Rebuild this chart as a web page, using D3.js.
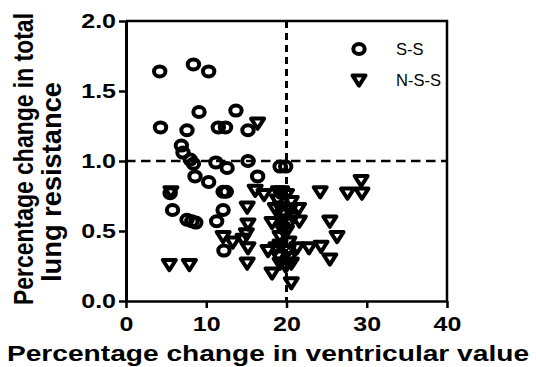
<!DOCTYPE html>
<html>
<head>
<meta charset="utf-8">
<script src="https://cdn.jsdelivr.net/npm/d3@7"></script>
<style>
body { margin: 0; background: #fff; }
text { font-family: "Liberation Sans", Arial, sans-serif; fill: #000; }
</style>
</head>
<body>
<div class="graph"></div>
<script>
// points: [ventricular change, lung resistance change]
var ssPoints = [
  [4.2,1.64],[8.4,1.69],[10.3,1.64],[9.1,1.35],[13.7,1.36],[4.3,1.24],[7.6,1.22],
  [11.5,1.24],[12.4,1.24],[15.2,1.22],[6.9,1.11],[7.1,1.06],[8.0,1.01],[8.4,0.98],
  [11.2,0.99],[12.6,0.95],[15.2,1.0],[19.2,0.96],[19.9,0.96],[8.6,0.89],[10.3,0.85],
  [16.4,0.89],[12.1,0.78],[12.5,0.78],[5.5,0.77],[5.8,0.65],[7.6,0.58],[8.2,0.57],
  [8.7,0.56],[12.1,0.65],[11.3,0.57],[12.2,0.36]
];
var nssPoints = [
  [16.4,1.27],[5.6,0.78],[5.4,0.26],[7.9,0.26],[12.1,0.46],[13.3,0.42],[14.6,0.44],
  [16.1,0.79],[17.2,0.76],[19.4,0.78],[20.0,0.76],[24.2,0.78],[27.6,0.77],[29.4,0.77],
  [29.3,0.86],[20.6,0.71],[18.9,0.72],[15.1,0.67],[19.2,0.67],[20.4,0.65],[21.5,0.66],
  [18.2,0.56],[15.2,0.55],[19.6,0.58],[20.4,0.56],[21.6,0.57],[25.4,0.57],[15.0,0.48],
  [19.2,0.46],[26.3,0.46],[20.0,0.50],[15.2,0.38],[17.7,0.36],[18.7,0.38],[19.2,0.40],
  [20.2,0.36],[21.3,0.38],[22.8,0.38],[24.3,0.39],[25.4,0.30],[15.1,0.27],[19.2,0.27],
  [19.9,0.25],[20.6,0.27],[18.2,0.20],[20.6,0.13],[19.0,0.32],[19.6,0.62],[20.3,0.42],
  [19.4,0.52],[18.6,0.66],[20.8,0.60],[19.0,0.78],[20.4,0.31]
];
var seriesNames = ["S-S", "N-S-S"];
var xTicks = [0, 10, 20, 30, 40];
var yTicks = [0, 0.5, 1.0, 1.5, 2.0];
var cutoffX = 20, cutoffY = 1.0;

var W = 536, H = 367;
var STRETCH = 1.25; // the original picture is stretched sideways

function stretchText(sel) {
  sel.each(function() {
    var len = this.getComputedTextLength();
    d3.select(this).attr("textLength", len * STRETCH).attr("lengthAdjust", "spacingAndGlyphs");
  });
}

function main() {
  var svg = d3.select(".graph").append("svg")
      .attr("width", W)
      .attr("height", H);

  var x = d3.scaleLinear().domain([0, 40]).range([126, 447]);
  var y = d3.scaleLinear().domain([0, 2]).range([301, 21]);

  // frame top + right
  svg.append("path")
      .attr("d", "M" + x(0) + "," + y(2) + "H" + x(40) + "V" + y(0))
      .attr("fill", "none").attr("stroke", "#000").attr("stroke-width", 2.5);

  // cutoff lines
  svg.append("line")
      .attr("x1", x(0)).attr("x2", x(40)).attr("y1", y(cutoffY)).attr("y2", y(cutoffY))
      .attr("stroke", "#000").attr("stroke-width", 2.5).attr("stroke-dasharray", "9.5,5.5");
  svg.append("line")
      .attr("x1", x(cutoffX)).attr("x2", x(cutoffX)).attr("y1", y(2)).attr("y2", y(0))
      .attr("stroke", "#000").attr("stroke-width", 3).attr("stroke-dasharray", "7,5");

  // axes
  var yAxis = svg.append("g")
      .attr("transform", "translate(" + x(0) + ",0)")
      .call(d3.axisLeft(y).tickValues(yTicks).tickFormat(d3.format(".1f"))
            .tickSize(7).tickSizeOuter(0).tickPadding(3));
  yAxis.select(".domain").attr("stroke-width", 3);
  yAxis.selectAll(".tick line").attr("stroke-width", 2.5);
  yAxis.selectAll("text").attr("font-size", 20).attr("font-weight", "bold")
      .attr("font-family", "Liberation Sans, Arial, sans-serif").call(stretchText);

  var xAxis = svg.append("g")
      .attr("transform", "translate(0," + y(0) + ")")
      .call(d3.axisBottom(x).tickValues(xTicks).tickSize(7).tickSizeOuter(0).tickPadding(9));
  xAxis.select(".domain").attr("stroke-width", 2.5);
  xAxis.selectAll(".tick line").attr("stroke-width", 2.5);
  xAxis.selectAll("text").attr("font-size", 20).attr("font-weight", "bold")
      .attr("font-family", "Liberation Sans, Arial, sans-serif").call(stretchText);

  // titles
  svg.append("text")
      .attr("x", W / 2).attr("y", 361)
      .attr("text-anchor", "middle").attr("font-size", 22.5).attr("font-weight", "bold")
      .text("Percentage change in ventricular value")
      .call(stretchText);

  // [text, baseline x, centre y, length]
  var yTitle = [["Percentage change in total", 33, 159, 292], ["lung resistance", 61, 182, 200]];
  yTitle.forEach(function(t) {
    svg.append("text")
        .attr("transform", "translate(" + t[1] + "," + t[2] + ") rotate(-90) scale(1," + STRETCH + ")")
        .attr("text-anchor", "middle").attr("font-size", 22).attr("font-weight", "bold")
        .attr("textLength", t[3]).attr("lengthAdjust", "spacingAndGlyphs")
        .text(t[0]);
  });

  // markers
  var dots = svg.append("g").attr("class", "dots");
  dots.selectAll("ellipse")
      .data(ssPoints)
      .enter().append("ellipse")
        .attr("cx", function(d) { return x(d[0]); })
        .attr("cy", function(d) { return y(d[1]); })
        .attr("rx", 5.7).attr("ry", 5)
        .attr("fill", "none").attr("stroke", "#000").attr("stroke-width", 4);

  var tri = "M-6.5,-4.6L6.5,-4.6L0,5.6Z";
  dots.selectAll("path")
      .data(nssPoints)
      .enter().append("path")
        .attr("d", tri)
        .attr("transform", function(d) { return "translate(" + x(d[0]) + "," + y(d[1]) + ")"; })
        .attr("fill", "none").attr("stroke", "#000").attr("stroke-width", 4)
        .attr("stroke-linejoin", "round");

  // legend
  var legend = svg.append("g").attr("class", "legend");
  seriesNames.forEach(function(name, i) {
    var ly = 49 + i * 31;
    if (i == 0) {
      legend.append("ellipse").attr("cx", 359).attr("cy", ly).attr("rx", 5.7).attr("ry", 5)
          .attr("fill", "none").attr("stroke", "#000").attr("stroke-width", 4);
    } else {
      legend.append("path").attr("d", tri).attr("transform", "translate(359," + ly + ")")
          .attr("fill", "none").attr("stroke", "#000").attr("stroke-width", 4)
          .attr("stroke-linejoin", "round");
    }
    legend.append("text")
        .attr("x", 396).attr("y", ly).attr("dy", "0.36em")
        .attr("font-size", 16.5)
        .text(name);
  });
}

main();
</script>
</body>
</html>
